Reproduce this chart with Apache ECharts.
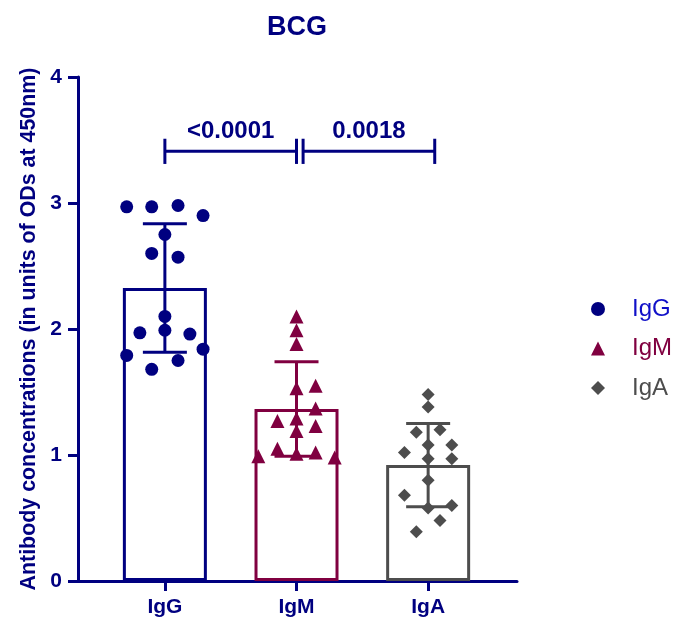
<!DOCTYPE html>
<html><head><meta charset="utf-8">
<script src="https://cdn.jsdelivr.net/npm/echarts@6/dist/echarts.min.js"></script>
<style>html,body{margin:0;padding:0;background:#fff}#c{width:674px;height:620px}</style>
</head><body><div id="c"></div>
<script>
// ---- data ----
const title = 'BCG';
const yAxisTitle = 'Antibody concentrations (in units of ODs at 450nm)';
const categories = ['IgG', 'IgM', 'IgA'];
const categoryPositions = [1, 2, 3];
const means = [2.325, 1.365, 0.92];
const sds = [0.51, 0.375, 0.33];

const iggOffsets = [-0.29, -0.10, 0.10, 0.29, 0, -0.10, 0.10, 0, -0.19, 0, 0.19, -0.29, 0.29, 0.10, -0.10];
const iggValues  = [2.97, 2.97, 2.98, 2.90, 2.75, 2.60, 2.57, 2.10, 1.97, 1.99, 1.96, 1.79, 1.84, 1.75, 1.68];

const igmOffsets = [0, 0, 0, 0, 0.145, 0.145, -0.145, 0, 0, 0.145, -0.145, -0.29, 0, 0.145, 0.29];
const igmValues  = [2.10, 1.99, 1.88, 1.53, 1.55, 1.37, 1.27, 1.29, 1.19, 1.23, 1.05, 0.99, 1.01, 1.02, 0.98];

const igaOffsets = [0, 0, -0.09, 0.09, 0, -0.18, 0.18, 0, 0.18, 0, -0.18, 0, 0.18, 0.09, -0.09];
const igaValues  = [1.48, 1.38, 1.18, 1.20, 1.08, 1.02, 1.08, 0.97, 0.97, 0.80, 0.68, 0.58, 0.60, 0.48, 0.39];

const comparisonFrom = [1, 2.05];
const comparisonTo = [2, 3.05];
const comparisonLabels = ['<0.0001', '0.0018'];
const comparisonLevel = 3.41;

// ---- styling ----
const navy = '#000080';
const colors = ['#000080', '#800040', '#4D4D4D'];
const legendTextColors = ['#1010C8', '#800040', '#4D4D4D'];
const symbols = ['circle', 'triangle', 'diamond'];
const FONT = "'Liberation Sans', Arial, sans-serif";

const offsetsList = [iggOffsets, igmOffsets, igaOffsets];
const valuesList = [iggValues, igmValues, igaValues];

const chart = echarts.init(document.getElementById('c'), null, {renderer: 'canvas'});

const scatterSeries = categories.map((name, i) => ({
  name: name,
  type: 'scatter',
  symbol: symbols[i],
  symbolSize: symbols[i] === 'triangle' ? 14 : 13,
  itemStyle: {color: colors[i], opacity: 1},
  z: 5,
  data: valuesList[i].map((v, k) => [categoryPositions[i] + offsetsList[i][k], v])
}));

const option = {
  animation: false,
  backgroundColor: '#fff',
  grid: {left: 78, right: 157, top: 77, bottom: 39, containLabel: false},
  graphic: [{
    type: 'text', x: 297, y: 28,
    style: {text: title, font: 'bold 27px ' + FONT, fill: navy, align: 'center', verticalAlign: 'middle'}
  }],
  legend: {
    orient: 'vertical',
    left: 586, top: 292,
    itemWidth: 14, itemHeight: 14, itemGap: 15.5,
    textStyle: {fontFamily: FONT, fontSize: 24, padding: [0, 0, 0, 22]},
    data: categories.map((c, i) => ({name: c, icon: symbols[i], textStyle: {color: legendTextColors[i]}}))
  },
  xAxis: {
    type: 'value', min: 0.34, max: 3.675,
    splitLine: {show: false},
    axisLine: {show: true, onZero: false, lineStyle: {color: navy, width: 3}},
    axisTick: {show: true, customValues: categoryPositions, length: 10, lineStyle: {color: navy, width: 3}},
    axisLabel: {
      customValues: categoryPositions, margin: 16,
      color: navy, fontFamily: FONT, fontWeight: 'bold', fontSize: 21,
      formatter: v => categories[categoryPositions.indexOf(Math.round(v))] || ''
    }
  },
  yAxis: {
    type: 'value', min: 0, max: 4, interval: 1,
    name: yAxisTitle, nameLocation: 'middle', nameGap: 38, nameRotate: 90,
    nameTextStyle: {color: navy, fontFamily: FONT, fontWeight: 'bold', fontSize: 21.4},
    splitLine: {show: false},
    axisLine: {show: true, onZero: false, lineStyle: {color: navy, width: 3}},
    axisTick: {show: true, length: 10, lineStyle: {color: navy, width: 3}},
    axisLabel: {margin: 16, color: navy, fontFamily: FONT, fontWeight: 'bold', fontSize: 21}
  },
  series: [
    {
      type: 'bar',
      barWidth: 84,
      z: 2,
      silent: true,
      data: means.map((m, i) => ({
        value: [categoryPositions[i], m],
        itemStyle: {color: '#fff', borderColor: colors[i], borderWidth: 3}
      }))
    },
    {
      type: 'custom',
      z: 3,
      silent: true,
      data: means.map((m, i) => [categoryPositions[i], m, sds[i], i]),
      renderItem: function (params, api) {
        const x = api.value(0), m = api.value(1), s = api.value(2);
        const c = colors[api.value(3)];
        const top = api.coord([x, m + s]);
        const bot = api.coord([x, m - s]);
        const half = 22;
        const st = {stroke: c, lineWidth: 3};
        return {type: 'group', children: [
          {type: 'line', shape: {x1: top[0], y1: top[1], x2: bot[0], y2: bot[1]}, style: st},
          {type: 'line', shape: {x1: top[0] - half, y1: top[1], x2: top[0] + half, y2: top[1]}, style: st},
          {type: 'line', shape: {x1: bot[0] - half, y1: bot[1], x2: bot[0] + half, y2: bot[1]}, style: st}
        ]};
      }
    },
    {
      type: 'custom',
      z: 4,
      silent: true,
      data: comparisonFrom.map((f, i) => [f, comparisonTo[i], comparisonLevel]),
      renderItem: function (params, api) {
        const x1 = api.value(0), x2 = api.value(1), y = api.value(2);
        const p1 = api.coord([x1, y]), p2 = api.coord([x2, y]);
        const yt = api.coord([x1, y + 0.1])[1], yb = api.coord([x1, y - 0.1])[1];
        const st = {stroke: navy, lineWidth: 3};
        return {type: 'group', children: [
          {type: 'line', shape: {x1: p1[0], y1: p1[1], x2: p2[0], y2: p2[1]}, style: st},
          {type: 'line', shape: {x1: p1[0], y1: yt, x2: p1[0], y2: yb}, style: st},
          {type: 'line', shape: {x1: p2[0], y1: yt, x2: p2[0], y2: yb}, style: st},
          {type: 'text', style: {
            x: (p1[0] + p2[0]) / 2, y: p1[1] - 20,
            text: comparisonLabels[params.dataIndex],
            align: 'center', verticalAlign: 'middle',
            font: 'bold 24px ' + FONT, fill: navy
          }}
        ]};
      }
    }
  ].concat(scatterSeries)
};
chart.setOption(option);
</script>
</body></html>
